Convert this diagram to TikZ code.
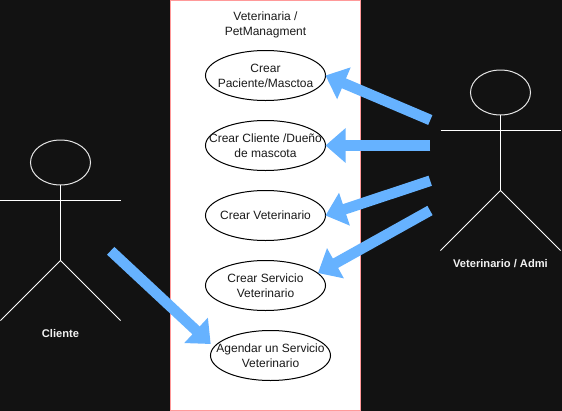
\documentclass[tikz,border=0pt]{standalone}
\usepackage{fontspec}
\setmainfont{Liberation Sans}
\usetikzlibrary{arrows.meta,shapes.geometric}
\definecolor{bgdark}{HTML}{121212}
\definecolor{boxred}{HTML}{FF9999}
\definecolor{flow}{HTML}{66B2FF}
\definecolor{ink}{HTML}{1A1A1A}
\tikzset{
  x=0.75pt,y=-0.75pt,
  usecase/.style={draw=black,fill=white,ellipse,line width=0.75pt,outer sep=0pt,minimum width=90pt,minimum height=37.5pt,inner sep=0pt},
  uctext/.style={font=\fontsize{9}{11.25}\selectfont,text=ink,align=center,inner sep=0pt},
  head/.style={draw=white!90!black,ellipse,line width=0.75pt,outer sep=0pt,minimum width=45pt,minimum height=33.75pt,inner sep=0pt},
  limb/.style={draw=white,line width=0.75pt},
  actorlabel/.style={font=\fontsize{8.35}{10}\selectfont\bfseries,text=white!95!black,inner sep=0pt},
  bigflow/.style={draw=flow,line width=8pt,-{Triangle[length=15pt,width=25pt]}},
}
\begin{document}
\begin{tikzpicture}
\path[use as bounding box,fill=bgdark] (0,0) rectangle (562,411);
\node[draw=boxred,fill=white,line width=0.9pt,outer sep=0pt,minimum width=142.5pt,minimum height=307.5pt,inner sep=0pt,anchor=north west] (sys) at (170.5,0.5) {};
\node[uctext] (title) at (265.5,25) {Veterinaria /\\PetManagment};

\node[usecase,label={[uctext]center:Crear\\Paciente/Masctoa}] (e1) at (265.5,75.5) {};
\node[usecase,label={[uctext]center:Crear Cliente /Dueño\\de mascota}] (e2) at (265.5,145.5) {};
\node[usecase,label={[uctext]center:Crear Veterinario}] (e3) at (265.5,215.5) {};
\node[usecase,label={[uctext]center:Crear Servicio\\Veterinario}] (e4) at (265.5,285.5) {};
\node[usecase,label={[uctext]center:Agendar un Servicio\\Veterinario}] (e5) at (270.5,355.5) {};

% left actor
\node[head] (h1) at (60.5,162.5) {};
\coordinate (la1) at (0.5,200.5);
\coordinate (ra1) at (120.5,200.5);
\coordinate (hip1) at (60.5,260.5);
\coordinate (lf1) at (0.5,320.5);
\coordinate (rf1) at (120.5,320.5);
\draw[limb] (h1.south) -- (hip1);
\draw[limb] (la1) -- (ra1);
\draw[limb] (lf1) -- (hip1) -- (rf1);
\node[actorlabel] (cliente) at (60.5,333.5) {Cliente};

% right actor
\node[head] (h2) at (500.5,92.5) {};
\coordinate (la2) at (440.5,130.5);
\coordinate (ra2) at (560.5,130.5);
\coordinate (hip2) at (500.5,190.5);
\coordinate (lf2) at (440.5,250.5);
\coordinate (rf2) at (560.5,250.5);
\draw[limb] (h2.south) -- (hip2);
\draw[limb] (la2) -- (ra2);
\draw[limb] (lf2) -- (hip2) -- (rf2);
\node[actorlabel] (admi) at (500.5,263.5) {Veterinario / Admi};

% connectors
\coordinate (t1) at (430.3,120);
\coordinate (t2) at (430.3,145.5);
\coordinate (t3) at (430.2,180.8);
\coordinate (t4) at (430,210.5);
\coordinate (t5) at (110.7,250.8);
\coordinate (p4) at (318,273);
\coordinate (p5) at (210.7,344);
\draw[bigflow] (t1) -- (e1.east);
\draw[bigflow] (t2) -- (e2.east);
\draw[bigflow] (t3) -- (e3.east);
\draw[bigflow] (t4) -- (p4);
\draw[bigflow] (t5) -- (p5);
\end{tikzpicture}
\end{document}
